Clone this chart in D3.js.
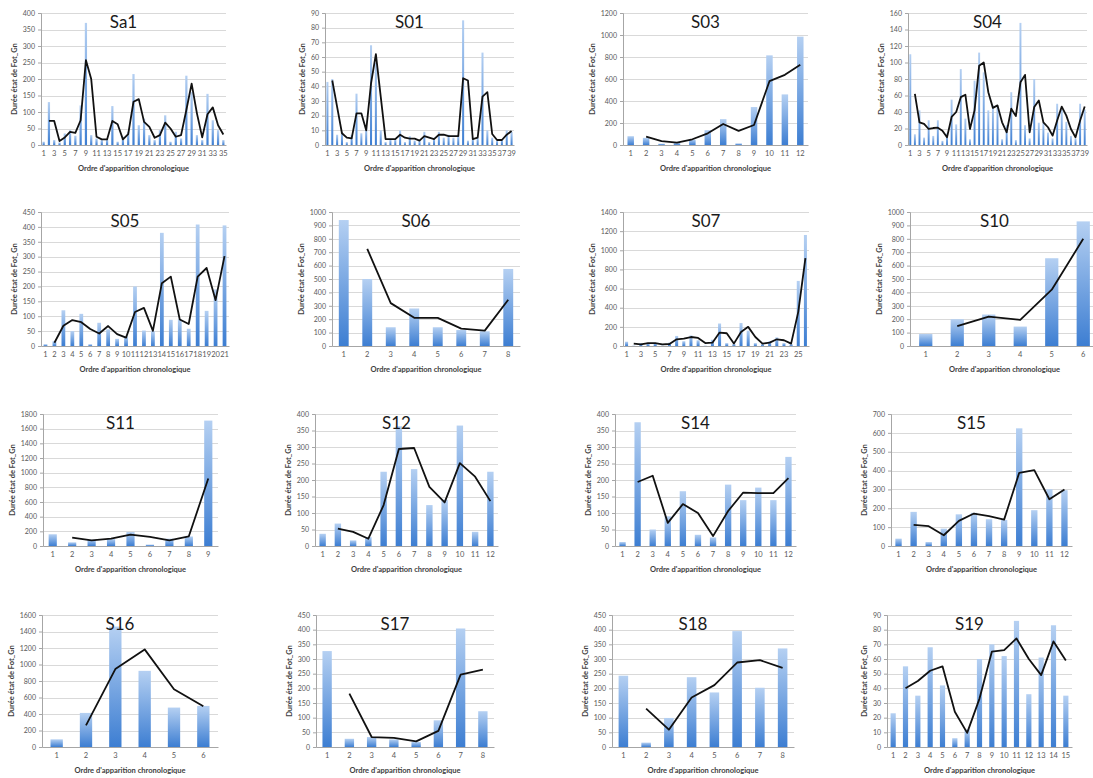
<!DOCTYPE html>
<html><head><meta charset="utf-8">
<script src="https://cdn.jsdelivr.net/npm/d3@7"></script>
<style>body{margin:0;background:#fff}svg{display:block}</style>
</head><body><svg id="c" width="1093" height="778"></svg>
<script>
// ---- data ----
const sa1Bars = [10,130,15,8,35,45,28,120,370,30,20,15,18,118,10,25,40,215,60,80,30,15,45,90,10,40,20,210,160,30,15,155,75,45,15];
const sa1Line = [null,73,73,12,23,40,37,75,257,200,25,17,17,73,63,17,33,131,139,70,55,22,30,68,50,25,30,106,186,96,23,93,114,60,32];
const s01Bars = [43,45,7,9,2,7,35,8,12,68,56,10,2,4,4,10,2,6,3,3,9,2,5,9,5,7,5,7,85,3,5,5,63,10,5,3,4,10,9];
const s01Line = [null,44,26,8,5,4.5,21.6,21.6,10,42,62,33,4,4,4,7,5,4.3,4.3,3,6,5,4,7,7,6,6,6,45.5,44,4,5,33,36,7.5,3.4,3.4,7,9.6];
const s03Bars = [80,65,12,20,50,135,235,15,345,815,460,985];
const s03Line = [null,76,36,21,52,106,191,128,182,580,638,730];
const s04Bars = [110,13,42,9,30,11,30,5,14,55,25,92,32,7,78,112,88,42,48,48,7,24,64,6,148,24,8,80,27,27,15,8,50,43,28,11,8,50,43];
const s04Line = [null,62,27.5,25.5,19.4,20.6,21,17.4,9.3,34,40,58,61,19.4,42,96,100,64,45,48,27.5,15.4,44,35,76,85,15.4,46,54,27.5,21.5,11.3,29.6,46.6,35.6,19.4,9.3,29.6,46.6];
const s05Bars = [6,16,120,50,108,6,78,56,24,32,200,52,50,380,88,90,58,408,118,190,405];
const s05Line = [null,11,68,87,80,57,42,67,40,28,114,128,51,211,233,89,74,233,262,154,302];
const s06Bars = [940,500,140,280,140,120,110,575];
const s06Line = [null,725,320,210,210,130,115,345];
const s07Bars = [45,5,30,30,30,5,35,105,50,110,60,5,65,235,30,20,240,160,30,20,50,90,30,20,680,1160];
const s07Line = [null,25,17,31,31,17,21,70,77,94,84,31,35,140,133,25,147,200,94,25,35,70,60,25,357,917];
const s10Bars = [90,200,235,145,655,930];
const s10Line = [null,148,220,195,420,800];
const s11Bars = [160,50,85,95,190,20,100,130,1710];
const s11Line = [null,114,77,100,155,123,77,132,920];
const s12Bars = [37,68,17,27,225,363,233,124,140,365,43,225];
const s12Line = [null,53,43,22,124,294,297,179,132,251,210,136];
const s14Bars = [12,375,50,90,166,34,26,186,139,177,139,270];
const s14Line = [null,194,213,70,127,100,30,106,162,160,160,206];
const s15Bars = [39,181,21,92,168,176,142,138,624,190,301,296];
const s15Line = [null,112,105,57,133,172,158,140,388,402,248,300];
const s16Bars = [93,413,1460,923,478,498];
const s16Line = [null,263,944,1183,700,494];
const s17Bars = [327,28,34,26,17,91,404,122];
const s17Line = [null,182,34,31,19,55,247,264];
const s18Bars = [243,15,99,238,186,395,202,336];
const s18Line = [null,131,59,169,211,288,296,270];
const s19Bars = [23,55,35,68,42,6,12,60,70,62,86,36,61,83,35];
const s19Line = [null,40,45,52,55,24,9.6,33,65,66,74,60,49,72,59];

const names = ["Sa1","S01","S03","S04","S05","S06","S07","S10","S11","S12","S14","S15","S16","S17","S18","S19"];
const yMaxes = [400,90,1200,160,450,1000,1400,1000,1800,400,400,700,1600,450,450,90];
const ySteps = [50,10,200,20,50,100,200,100,200,50,50,100,200,50,50,10];
const labelEvery = [2,2,1,2,1,1,2,1,1,1,1,1,1,1,1,1];
const barSets = [sa1Bars,s01Bars,s03Bars,s04Bars,s05Bars,s06Bars,s07Bars,s10Bars,s11Bars,s12Bars,s14Bars,s15Bars,s16Bars,s17Bars,s18Bars,s19Bars];
const lineSets = [sa1Line,s01Line,s03Line,s04Line,s05Line,s06Line,s07Line,s10Line,s11Line,s12Line,s14Line,s15Line,s16Line,s17Line,s18Line,s19Line];
const yTitle = "Durée état de Fot_Gn";
const xTitle = "Ordre d'apparition chronologique";

// ---- layout (plot areas) ----
const layout = [
 {l:41,r:226,t:13,b:145},{l:325,r:514,t:13,b:145},{l:623,r:808,t:13,b:145},{l:908,r:1087,t:13,b:145},
 {l:41,r:229,t:212,b:346},{l:332,r:520,t:212,b:346},{l:623,r:809,t:212,b:346},{l:910,r:1099,t:212,b:346},
 {l:43,r:218,t:414,b:546},{l:315,r:498,t:414,b:546},{l:615,r:796,t:414,b:546},{l:891,r:1072,t:414,b:546},
 {l:42,r:218,t:615,b:747},{l:316,r:494,t:615,b:747},{l:612,r:794,t:615,b:747},{l:887,r:1072,t:615,b:747}
];

const FONT = "Lato, 'Open Sans', sans-serif";
const svg = d3.select("#c");
const defs = svg.append("defs");
const grad = defs.append("linearGradient").attr("id","barGrad").attr("x1",0).attr("y1",0).attr("x2",0).attr("y2",1);
grad.append("stop").attr("offset","0%").attr("stop-color","#b5d0f2");
grad.append("stop").attr("offset","100%").attr("stop-color","#3d7ed2");

names.forEach((name,i)=>{
  const L = layout[i];
  const bars = barSets[i], line = lineSets[i];
  const cats = bars.map((d,j)=>j+1);
  const g = svg.append("g");
  const x = d3.scaleBand().domain(cats).range([L.l,L.r]);
  const y = d3.scaleLinear().domain([0,yMaxes[i]]).range([L.b,L.t]);
  const ticks = d3.range(0,yMaxes[i]+ySteps[i]/2,ySteps[i]);

  g.append("g").selectAll("line").data(ticks.slice(1)).join("line")
    .attr("x1",L.l).attr("x2",L.r).attr("y1",d=>Math.round(y(d))+0.5).attr("y2",d=>Math.round(y(d))+0.5)
    .attr("stroke","#d9d9d9").attr("stroke-width",1);

  const bw = x.bandwidth()*0.42;
  g.append("g").selectAll("rect").data(bars).join("rect")
    .attr("x",(d,j)=>x(j+1)+(x.bandwidth()-bw)/2)
    .attr("width",bw)
    .attr("y",d=>y(d)).attr("height",d=>y(0)-y(d))
    .attr("fill","url(#barGrad)");

  const lineGen = d3.line().defined(d=>d!=null).x((d,j)=>x(j+1)+x.bandwidth()/2).y(d=>y(d));
  g.append("path").datum(line).attr("d",lineGen).attr("fill","none").attr("stroke","#111").attr("stroke-width",1.8).attr("stroke-linejoin","round");

  const ya = g.append("g").attr("transform",`translate(${L.l},0)`)
    .call(d3.axisLeft(y).tickValues(ticks).tickFormat(d3.format("d")).tickSize(3).tickPadding(3));
  ya.select(".domain").attr("stroke","#a6a6a6");
  ya.selectAll(".tick line").attr("stroke","#a6a6a6");
  ya.selectAll("text").attr("font-family",FONT).attr("font-size",7).attr("fill","#595959");

  const xa = g.append("g").attr("transform",`translate(0,${L.b})`)
    .call(d3.axisBottom(x).tickValues(cats.filter(c=>(c-1)%labelEvery[i]===0)).tickSize(0).tickPadding(6));
  xa.select(".domain").attr("stroke","#a6a6a6");
  xa.selectAll("text").attr("font-family",FONT).attr("font-size",7.5).attr("fill","#595959");

  let maxW = 0;
  ya.selectAll("text").each(function(){maxW=Math.max(maxW,this.getComputedTextLength());});
  const tx = L.l - 6 - maxW - 6;
  g.append("text").attr("transform",`translate(${tx},${(L.t+L.b)/2}) rotate(-90)`)
    .attr("text-anchor","middle").attr("font-family",FONT).attr("font-size",7.5).attr("font-weight","bold")
    .attr("fill","#404040").text(yTitle);

  g.append("text").attr("x",(L.l+L.r)/2).attr("y",L.b+26)
    .attr("text-anchor","middle").attr("font-family",FONT).attr("font-size",7.5).attr("font-weight","bold")
    .attr("fill","#404040").text(xTitle);

  g.append("text").attr("x",(L.l+L.r)/2-10).attr("y",L.t+15)
    .attr("text-anchor","middle").attr("font-family",FONT).attr("font-size",17)
    .attr("fill","#1a1a1a").text(name);
});
</script></body></html>
